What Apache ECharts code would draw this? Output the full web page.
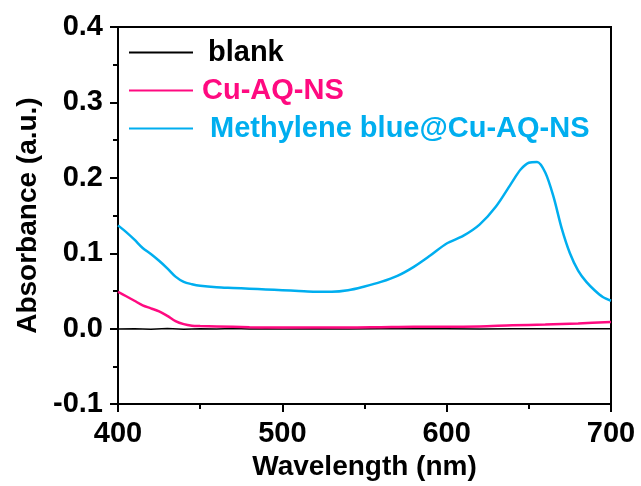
<!DOCTYPE html>
<html>
<head>
    <meta charset="utf-8">
    <title>Absorbance</title>
    <script src="https://cdn.jsdelivr.net/npm/echarts@6/dist/echarts.min.js"></script>
    <style>
        html, body { margin: 0; padding: 0; background: #fff; }
    </style>
</head>
<body>
    <div id="main" style="width:641px;height:486px;"></div>
    <script type="text/javascript">
        // wavelength (nm) and absorbance
        var blankX = [400, 410, 420, 430, 440, 450, 460, 470, 480, 490, 500, 520, 540, 560, 580, 600, 620, 640, 660, 680, 700];
        var blankY = [-0.0005, 0, -0.0008, 0.0003, -0.0006, 0, -0.0004, 0.0002, -0.0005, 0, -0.0003, 0, -0.0004, 0, -0.0002, 0, -0.0003, 0, -0.0002, 0, 0];

        var cuX = [400, 405, 410, 415, 420, 425, 430, 435, 440, 445, 450, 460, 480, 500, 520, 540, 560, 580, 600, 620, 640, 660, 680, 700];
        var cuY = [0.049, 0.043, 0.037, 0.031, 0.027, 0.023, 0.017, 0.010, 0.006, 0.004, 0.0035, 0.003, 0.002, 0.0015, 0.0015, 0.0015, 0.002, 0.0025, 0.0025, 0.003, 0.0045, 0.0055, 0.007, 0.009];

        var mbX = [400, 405, 410, 415, 420, 425, 430, 435, 440, 445, 450, 460, 470, 480, 490, 500, 510, 520, 530, 540, 550, 560, 570, 580, 590, 600, 610, 620, 630, 640, 645, 650, 655, 660, 665, 670, 675, 680, 685, 690, 695, 700];
        var mbY = [0.137, 0.128, 0.118, 0.107, 0.099, 0.090, 0.080, 0.069, 0.062, 0.059, 0.057, 0.055, 0.054, 0.053, 0.052, 0.051, 0.050, 0.049, 0.049, 0.051, 0.056, 0.062, 0.070, 0.082, 0.097, 0.113, 0.123, 0.138, 0.162, 0.195, 0.211, 0.220, 0.221, 0.207, 0.175, 0.133, 0.100, 0.077, 0.062, 0.051, 0.042, 0.037];

        var names = ['blank', 'Cu-AQ-NS', 'Methylene blue@Cu-AQ-NS'];
        var colors = ['#000000', '#FF0A80', '#00AEEF'];

        function pairs(xs, ys) {
            var out = [];
            for (var i = 0; i < xs.length; i++) {
                out.push([xs[i], ys[i]]);
            }
            return out;
        }

        var font = '"Liberation Sans", Arial, sans-serif';
        var myChart = echarts.init(document.getElementById('main'));

        var option = {
            animation: false,
            grid: {
                left: 118, right: 30, top: 27, bottom: 80,
                show: true,
                borderColor: '#000',
                borderWidth: 2
            },
            legend: {
                orient: 'vertical',
                left: 124,
                top: 33,
                itemWidth: 64,
                itemHeight: 2,
                itemGap: 9,
                icon: 'rect',
                textStyle: { fontFamily: font, fontWeight: 'bold', fontSize: 29, lineHeight: 29 },
                data: [
                    { name: names[0], textStyle: { color: colors[0], padding: [0, 0, 0, 10] } },
                    { name: names[1], textStyle: { color: colors[1], padding: [0, 0, 0, 4] } },
                    { name: names[2], textStyle: { color: colors[2], padding: [0, 0, 0, 12] } }
                ]
            },
            xAxis: {
                type: 'value',
                min: 400, max: 700, interval: 100,
                name: 'Wavelength (nm)',
                nameLocation: 'middle',
                nameGap: 47,
                nameTextStyle: { fontFamily: font, fontWeight: 'bold', fontSize: 28, color: '#000' },
                axisLine: { onZero: false, lineStyle: { color: '#000', width: 2 } },
                axisTick: { inside: false, length: 8, lineStyle: { color: '#000', width: 2 } },
                minorTick: { show: true, splitNumber: 2, length: 5, lineStyle: { color: '#000', width: 2 } },
                axisLabel: { margin: 15, fontFamily: font, fontWeight: 'bold', fontSize: 29, color: '#000' },
                splitLine: { show: false }
            },
            yAxis: {
                type: 'value',
                min: -0.1, max: 0.4, interval: 0.1,
                name: 'Absorbance (a.u.)',
                nameLocation: 'middle',
                nameGap: 72,
                nameTextStyle: { fontFamily: font, fontWeight: 'bold', fontSize: 28, color: '#000' },
                axisLine: { onZero: false, lineStyle: { color: '#000', width: 2 } },
                axisTick: { inside: false, length: 8, lineStyle: { color: '#000', width: 2 } },
                minorTick: { show: true, splitNumber: 2, length: 5, lineStyle: { color: '#000', width: 2 } },
                axisLabel: {
                    margin: 15, fontFamily: font, fontWeight: 'bold', fontSize: 29, color: '#000',
                    formatter: function (v) { return v.toFixed(1); }
                },
                splitLine: { show: false }
            },
            series: [
                { name: names[0], type: 'line', data: pairs(blankX, blankY), showSymbol: false, symbol: 'none', lineStyle: { color: colors[0], width: 1.5 }, itemStyle: { color: colors[0] } },
                { name: names[1], type: 'line', data: pairs(cuX, cuY), smooth: 0.3, showSymbol: false, symbol: 'none', lineStyle: { color: colors[1], width: 2.5 }, itemStyle: { color: colors[1] } },
                { name: names[2], type: 'line', data: pairs(mbX, mbY), smooth: 0.3, showSymbol: false, symbol: 'none', lineStyle: { color: colors[2], width: 2.5 }, itemStyle: { color: colors[2] } }
            ]
        };

        myChart.setOption(option);
    </script>
</body>
</html>
